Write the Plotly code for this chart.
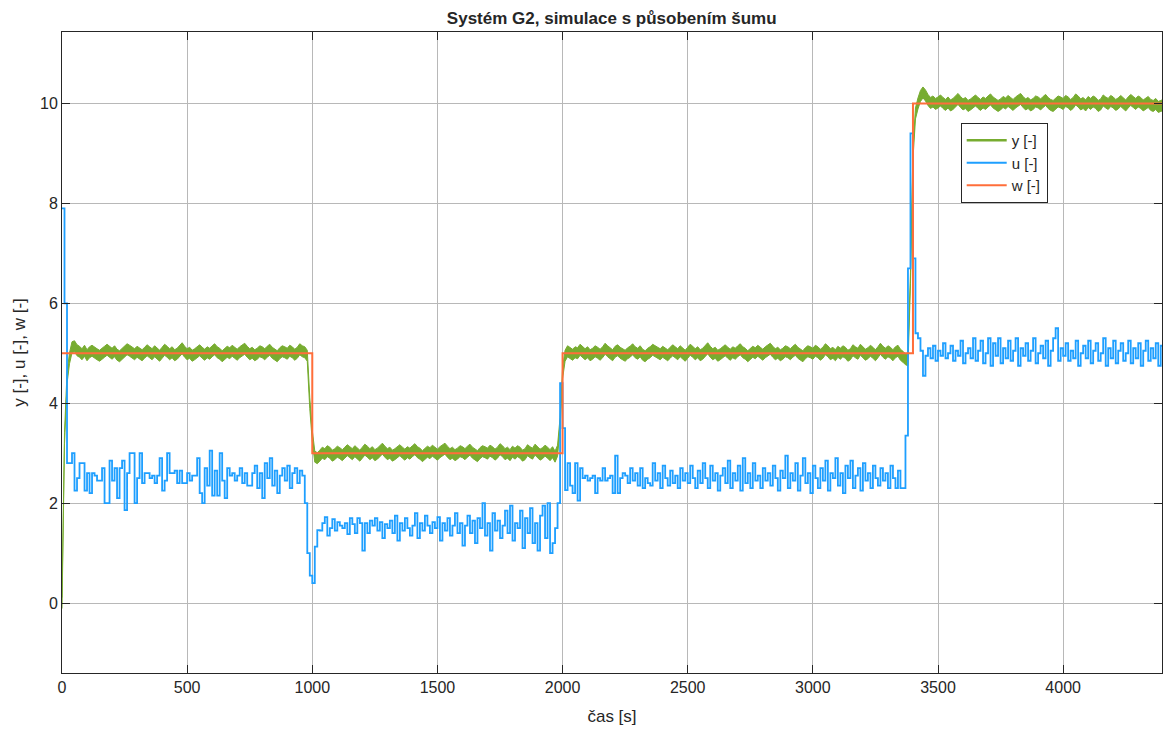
import numpy as np
import plotly.graph_objects as go

# Simulation of system G2 with measurement noise: output y, control u, setpoint w
Ts = 10  # sample period of the logged signals [s]

# control signal u [-], one value per sample, in blocks of 100 s per row
u_0_1000 = [
    7.9, 6.0, 2.8, 2.8, 3.0, 2.25, 2.5, 2.8, 2.8, 2.25,
    2.6, 2.2, 2.6, 2.55, 2.45, 2.45, 2.7, 2.0, 2.0, 2.85,
    2.45, 2.7, 2.1, 2.7, 2.85, 1.86, 2.6, 3.0, 3.0, 2.0,
    2.5, 3.0, 2.4, 2.6, 2.6, 2.5, 2.55, 2.4, 2.55, 2.9,
    2.25, 2.45, 3.0, 2.6, 2.6, 2.65, 2.4, 2.65, 2.4, 2.4,
    2.6, 2.45, 2.55, 2.55, 2.9, 2.2, 2.0, 2.7, 2.35, 3.05,
    2.15, 2.65, 2.15, 3.0, 2.45, 2.1, 2.7, 2.55, 2.6, 2.45,
    2.55, 2.7, 2.4, 2.6, 2.35, 2.35, 2.6, 2.75, 2.3, 2.6,
    2.1, 2.8, 2.5, 2.9, 2.35, 2.65, 2.2, 2.55, 2.7, 2.45,
    2.75, 2.3, 2.6, 2.7, 2.4, 2.65, 2.55, 2.0, 1.0, 0.55,
]
u_1000_2000 = [
    0.4, 1.13, 1.46, 1.45, 1.6, 1.72, 1.35, 1.5, 1.68, 1.45,
    1.62, 1.55, 1.5, 1.6, 1.38, 1.7, 1.58, 1.4, 1.7, 1.6,
    1.05, 1.6, 1.4, 1.65, 1.55, 1.7, 1.45, 1.62, 1.3, 1.58,
    1.5, 1.65, 1.4, 1.75, 1.25, 1.6, 1.45, 1.7, 1.5, 1.35,
    1.55, 1.8, 1.3, 1.6, 1.45, 1.75, 1.55, 1.4, 1.62, 1.5,
    1.72, 1.25, 1.6, 1.45, 1.7, 1.35, 1.55, 1.8, 1.4, 1.6,
    1.15, 1.55, 1.75, 1.4, 1.65, 1.2, 1.7, 1.5, 2.0, 1.35,
    1.6, 1.05, 1.8, 1.45, 1.65, 1.3, 1.55, 1.85, 1.4, 1.95,
    1.25, 1.6, 1.5, 1.85, 1.1, 1.7, 1.4, 1.9, 1.2, 1.6,
    1.05, 1.75, 1.95, 1.3, 2.0, 1.0, 1.2, 1.5, 2.0, 4.4,
]
u_2000_3400 = [
    3.5, 2.26, 2.8, 2.35, 2.2, 2.8, 2.05, 2.7, 2.5, 2.55,
    2.45, 2.5, 2.55, 2.2, 2.5, 2.45, 2.7, 2.45, 2.5, 2.55,
    2.2, 2.95, 2.2, 2.5, 2.6, 2.55, 2.4, 2.7, 2.45, 2.6,
    2.35, 2.7, 2.3, 2.5, 2.4, 2.35, 2.8, 2.45, 2.6, 2.3,
    2.75, 2.5, 2.35, 2.65, 2.4, 2.55, 2.3, 2.7, 2.45, 2.6,
    2.4, 2.75, 2.5, 2.3, 2.65, 2.4, 2.8, 2.5, 2.3, 2.75,
    2.45, 2.6, 2.25, 2.55, 2.7, 2.4, 2.85, 2.3, 2.6, 2.45,
    2.75, 2.25, 2.9, 2.4, 2.6, 2.3, 2.8, 2.45, 2.55, 2.3,
    2.7, 2.45, 2.6, 2.35, 2.75, 2.5, 2.25, 2.65, 2.5, 2.95,
    2.3, 2.6, 2.45, 2.8, 2.25, 2.55, 2.9, 2.4, 2.6, 2.2,
    2.75, 2.5, 2.3, 2.7, 2.45, 2.85, 2.25, 2.6, 2.5, 2.9,
    2.35, 2.6, 2.2, 2.75, 2.5, 2.85, 2.3, 2.55, 2.7, 2.25,
    2.8, 2.45, 2.6, 2.3, 2.75, 2.5, 2.35, 2.7, 2.45, 2.6,
    2.3, 2.75, 2.5, 2.3, 2.65, 2.3, 2.3, 3.35, 6.7, 9.4,
]
u_3400_4400 = [
    6.9, 5.4, 5.3, 5.05, 4.55, 4.95, 5.1, 4.9, 5.15, 4.85,
    5.05, 4.95, 5.2, 4.9, 5.0, 5.15, 4.85, 5.05, 4.95, 5.25,
    4.8, 5.0, 5.1, 4.9, 5.3, 4.85, 5.05, 5.25, 4.8, 5.0,
    5.3, 4.75, 5.2, 4.95, 5.3, 4.8, 5.1, 4.9, 5.25, 4.85,
    5.05, 5.3, 4.75, 5.1, 4.95, 5.2, 4.85, 5.05, 5.3, 4.8,
    5.0, 5.15, 4.9, 5.25, 4.75, 5.05, 5.3, 5.5, 4.85, 5.1,
    4.95, 5.2, 4.85, 5.05, 4.9, 5.25, 4.75, 5.0, 5.15, 4.9,
    5.25, 4.8, 5.05, 5.2, 4.85, 5.0, 5.3, 4.75, 5.1, 4.9,
    5.25, 4.8, 5.05, 5.2, 4.85, 5.0, 5.25, 4.8, 5.1, 4.9,
    5.2, 4.75, 5.05, 5.25, 4.85, 5.1, 4.9, 5.2, 4.75, 5.15,
    5.2,
]

# system output y [-] (mean value per sample) and the width of the noise band
y_0_1000 = [
    0.0, 3.3, 4.5, 4.9, 5.12, 5.14, 5.06, 5.03, 4.98, 5.05,
    4.96, 5.02, 5.05, 5.01, 4.98, 4.95, 5.0, 5.03, 5.07, 5.02,
    4.99, 5.04, 4.97, 4.94, 4.99, 5.02, 5.08, 5.05, 5.01, 4.98,
    5.03, 5.0, 4.96, 5.01, 5.06, 5.02, 4.98, 5.04, 4.99, 4.95,
    5.01, 5.07, 5.03, 4.98, 5.02, 4.96, 4.99, 5.05, 5.1, 5.03,
    4.98, 5.01, 4.95, 4.98, 5.03, 5.06, 5.01, 4.97, 5.02, 4.99,
    5.04, 5.08, 5.02, 4.99, 4.94, 4.98, 5.03, 5.0, 5.05, 5.01,
    4.97, 5.02, 5.06, 5.09, 5.03, 4.98, 5.01, 4.96, 4.99, 5.04,
    5.02, 4.98, 5.03, 5.07, 5.01, 4.97, 4.94, 5.0, 5.04, 5.02,
    4.99, 5.05, 5.02, 4.97, 5.01, 5.08, 5.04, 5.02, 4.95, 4.0,
]
y_1000_2000 = [
    3.35, 2.93, 2.9, 2.95, 3.01, 2.98, 3.04, 3.01, 2.95, 2.98,
    3.03, 3.0, 2.96, 3.01, 3.06, 3.02, 2.98, 3.04, 2.99, 2.95,
    3.01, 3.07, 3.03, 2.98, 3.02, 2.96, 2.99, 3.05, 3.09, 3.03,
    2.98, 3.01, 2.95, 2.98, 3.03, 3.06, 3.01, 2.97, 3.02, 2.99,
    3.04, 3.08, 3.02, 2.99, 2.94, 2.98, 3.03, 3.0, 3.05, 3.01,
    2.97, 3.02, 3.06, 3.09, 3.03, 2.98, 3.01, 2.96, 2.99, 3.04,
    3.02, 2.98, 3.03, 3.07, 3.01, 2.97, 2.94, 3.0, 3.04, 3.02,
    2.99, 3.05, 3.02, 2.97, 3.01, 3.08, 3.04, 2.98, 3.01, 2.96,
    3.03, 2.99, 3.04, 3.01, 2.95, 2.98, 3.06, 3.02, 2.99, 3.07,
    3.02, 2.97, 3.0, 3.05, 3.01, 2.96, 3.02, 2.93, 3.05, 3.6,
]
y_2000_3400 = [
    4.6, 4.95, 5.04, 5.01, 4.97, 5.02, 5.0, 5.07, 5.03, 4.98,
    5.02, 4.96, 4.99, 5.04, 5.01, 4.97, 5.02, 5.09, 5.04, 5.0,
    4.96, 5.03, 5.06, 5.01, 4.98, 4.95, 5.0, 5.03, 5.08, 5.02,
    4.99, 5.04, 4.97, 4.94, 4.99, 5.02, 5.07, 5.04, 5.0, 4.98,
    5.03, 5.0, 4.96, 5.01, 5.06, 5.02, 4.98, 5.04, 4.99, 4.95,
    5.01, 5.07, 5.03, 4.98, 5.02, 4.96, 4.99, 5.05, 5.1, 5.03,
    4.98, 5.01, 4.95, 4.98, 5.03, 5.06, 5.01, 4.97, 5.02, 4.99,
    5.04, 5.08, 5.02, 4.99, 4.94, 4.98, 5.03, 5.0, 5.05, 5.01,
    4.97, 5.02, 5.06, 5.09, 5.03, 4.98, 5.01, 4.96, 4.99, 5.04,
    5.02, 4.98, 5.03, 5.07, 5.01, 4.97, 4.94, 5.0, 5.04, 5.02,
    4.99, 5.05, 5.02, 4.97, 5.01, 5.08, 5.04, 4.98, 5.01, 4.96,
    5.03, 4.99, 5.04, 5.01, 4.95, 4.98, 5.06, 5.02, 4.99, 5.07,
    5.02, 4.97, 5.0, 5.05, 5.01, 4.96, 5.02, 5.09, 5.03, 4.99,
    5.04, 5.01, 4.96, 5.02, 5.05, 4.97, 4.93, 4.88, 4.86, 6.5,
]
y_3400_4400 = [
    9.0, 9.8, 10.0, 10.15, 10.22, 10.16, 10.07, 10.01, 10.04, 9.99,
    10.02, 10.06, 10.01, 9.97, 10.02, 9.96, 9.99, 10.05, 10.09, 10.03,
    9.98, 10.01, 9.95, 9.98, 10.03, 10.06, 10.01, 9.97, 10.02, 9.99,
    10.04, 10.08, 10.02, 9.99, 9.95, 9.98, 10.03, 10.0, 10.05, 10.01,
    9.97, 10.02, 10.06, 10.09, 10.03, 9.98, 10.01, 9.96, 9.99, 10.04,
    10.02, 9.98, 10.03, 10.07, 10.01, 9.97, 9.95, 10.0, 10.04, 10.02,
    9.99, 10.05, 10.02, 9.97, 10.01, 10.08, 10.04, 9.98, 10.01, 9.96,
    10.03, 9.99, 10.04, 10.01, 9.95, 9.98, 10.06, 10.02, 9.99, 10.05,
    10.02, 9.97, 10.0, 10.05, 10.01, 9.96, 10.02, 10.07, 10.03, 9.99,
    10.04, 10.01, 9.96, 10.0, 10.03, 9.97, 9.95, 9.99, 9.93, 9.95,
    9.97,
]
y_noise = 0.11  # half-width of the measurement noise band

# setpoint w [-]
w_time = [0, 1000, 2000, 3400, 4400]
w_vals = [5, 3, 5, 10, 10]

x_ticks = [0, 500, 1000, 1500, 2000, 2500, 3000, 3500, 4000]
y_ticks = [0, 2, 4, 6, 8, 10]

u = np.array(u_0_1000 + u_1000_2000 + u_2000_3400 + u_3400_4400)
y = np.array(y_0_1000 + y_1000_2000 + y_2000_3400 + y_3400_4400)
assert len(u) == len(y) == 441
t = np.arange(len(u)) * Ts

GREEN = "#77AC30"
BLUE = "#1E9FFF"
ORANGE = "#FF6E3A"
INK = "#262626"
GRID = "#b8b8b8"
FONT = "Liberation Sans, Arial, Helvetica, sans-serif"

fig = go.Figure()

# noisy output drawn as its band
fig.add_trace(go.Scatter(x=t, y=y + y_noise, mode="lines",
                         line=dict(color=GREEN, width=1),
                         showlegend=False, hoverinfo="skip"))
fig.add_trace(go.Scatter(x=t, y=y - y_noise, mode="lines",
                         line=dict(color=GREEN, width=1),
                         fill="tonexty", fillcolor=GREEN,
                         showlegend=False, hoverinfo="skip"))
fig.add_trace(go.Scatter(x=[None], y=[None], mode="lines", name="y [-]",
                         line=dict(color=GREEN, width=2.5)))
fig.add_trace(go.Scatter(x=t, y=u, mode="lines", name="u [-]",
                         line=dict(color=BLUE, width=1.8, shape="hv")))
fig.add_trace(go.Scatter(x=w_time, y=w_vals, mode="lines", name="w [-]",
                         line=dict(color=ORANGE, width=2, shape="hv")))

axis_common = dict(
    showline=True, linecolor=INK, linewidth=1, mirror="ticks",
    ticks="inside", ticklen=8, tickcolor=INK, tickwidth=1,
    showgrid=True, gridcolor=GRID, gridwidth=1, zeroline=False,
    tickfont=dict(family=FONT, size=16, color=INK),
)

fig.update_layout(
    width=1163, height=729,
    margin=dict(l=62, r=1, t=32, b=56),
    paper_bgcolor="white", plot_bgcolor="white",
    font=dict(family=FONT, color=INK),
    title=dict(text="<b>Systém G2, simulace s působením šumu</b>",
               x=0.526, xanchor="center", y=0.975, yanchor="middle",
               font=dict(family=FONT, size=17, color=INK)),
    xaxis=dict(range=[0, 4395], tickvals=x_ticks,
               title=dict(text="čas [s]", font=dict(family=FONT, size=17, color=INK),
                          standoff=14),
               **axis_common),
    yaxis=dict(range=[-1.4, 11.43], tickvals=y_ticks,
               title=dict(text="y [-], u [-], w [-]",
                          font=dict(family=FONT, size=17, color=INK),
                          standoff=10),
               **axis_common),
    legend=dict(x=0.817, y=0.858, xanchor="left", yanchor="top",
                traceorder="normal",
                bgcolor="white", bordercolor=INK, borderwidth=1,
                font=dict(family=FONT, size=15, color=INK),
                itemwidth=40, tracegroupgap=0),
    showlegend=True,
)

fig.write_html("out.html")
